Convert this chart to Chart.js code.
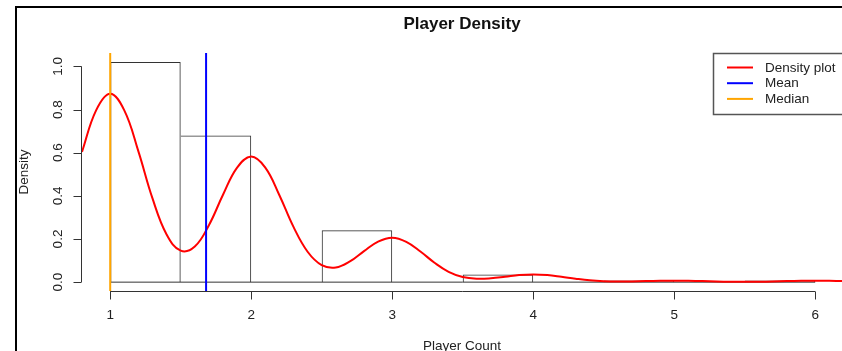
<!DOCTYPE html>
<html>
<head>
<meta charset="utf-8">
<title>Player Density</title>
<script src="https://cdn.jsdelivr.net/npm/chart.js@4.4.0/dist/chart.umd.min.js"></script>
<style>
  html, body { margin: 0; padding: 0; background: #fff; }
  #wrap { width: 842px; height: 351px; position: relative; }
</style>
</head>
<body>
<div id="wrap"><canvas id="densityChart"></canvas></div>
<script>
// histogram bins (width 0.5) and their density heights
const binEdges = [1, 1.5, 2, 2.5, 3, 3.5, 4, 4.5, 5, 5.5, 6];
const binDensity = [1.02, 0.68, 0, 0.24, 0, 0.036, 0, 0.008, 0, 0.008];

// density curve
const densityX = [0.8, 0.9, 1.0, 1.1, 1.2, 1.3, 1.4, 1.5, 1.6, 1.7,
    1.8, 1.9, 2.0, 2.1, 2.2, 2.3, 2.4, 2.5, 2.6, 2.7,
    2.8, 2.9, 3.0, 3.1, 3.2, 3.3, 3.4, 3.5, 3.6, 3.7,
    3.8, 3.9, 4.0, 4.1, 4.2, 4.3, 4.4, 4.5, 4.6, 4.7,
    4.8, 4.9, 5.0, 5.1, 5.2, 5.3, 5.4, 5.5, 5.6, 5.7,
    5.8, 5.9, 6.0, 6.1, 6.2];
const densityY = [0.604, 0.796, 0.873, 0.796, 0.606, 0.388, 0.221, 0.146, 0.165, 0.264,
    0.405, 0.531, 0.582, 0.531, 0.403, 0.256, 0.141, 0.079, 0.068, 0.096,
    0.144, 0.188, 0.206, 0.187, 0.142, 0.090, 0.048, 0.024, 0.016, 0.018,
    0.025, 0.033, 0.036, 0.033, 0.025, 0.016, 0.0084, 0.0043, 0.0029, 0.0034,
    0.0048, 0.0063, 0.0068, 0.0063, 0.0048, 0.0030, 0.0019, 0.0014, 0.0019, 0.0030,
    0.0048, 0.0063, 0.0068, 0.0063, 0.0048];

const meanValue = 1.68;
const medianValue = 1;

const xTicks = [1, 2, 3, 4, 5, 6];
const yTicks = [0, 0.2, 0.4, 0.6, 0.8, 1.0];
const yTickLabels = ['0.0', '0.2', '0.4', '0.6', '0.8', '1.0'];

const xRange = [0.8, 6.19];
const yRange = [-0.041, 1.062];

const legendItems = [
    { label: 'Density plot', color: '#ff0000' },
    { label: 'Mean', color: '#0000ff' },
    { label: 'Median', color: '#ffa500' }
];

const FONT = '"Liberation Sans", Arial, Helvetica, sans-serif';

// R base graphics look: detached axes, rotated y labels, boxed legend
const rStyle = {
    id: 'rStyle',
    afterDraw(chart) {
        const { ctx, chartArea, scales: { x, y } } = chart;
        ctx.save();

        // outer frame of the screenshot
        ctx.fillStyle = '#000';
        ctx.fillRect(15, 6, 2, 345);
        ctx.fillRect(15, 6, 827, 2);

        ctx.strokeStyle = '#333';
        ctx.lineWidth = 1;

        // x axis
        const ya = Math.round(chartArea.bottom) + 0.5;
        ctx.beginPath();
        ctx.moveTo(x.getPixelForValue(xTicks[0]), ya);
        ctx.lineTo(x.getPixelForValue(xTicks[xTicks.length - 1]), ya);
        xTicks.forEach(v => {
            const px = Math.round(x.getPixelForValue(v)) + 0.5;
            ctx.moveTo(px, ya);
            ctx.lineTo(px, ya + 8);
        });
        ctx.stroke();

        // y axis
        const xa = Math.round(chartArea.left) - 0.5;
        ctx.beginPath();
        ctx.moveTo(xa, y.getPixelForValue(yTicks[0]));
        ctx.lineTo(xa, y.getPixelForValue(yTicks[yTicks.length - 1]));
        yTicks.forEach(v => {
            const py = Math.round(y.getPixelForValue(v)) + 0.5;
            ctx.moveTo(xa, py);
            ctx.lineTo(xa - 8, py);
        });
        ctx.stroke();

        // tick labels
        ctx.fillStyle = '#222';
        ctx.font = '13.5px ' + FONT;
        ctx.textAlign = 'center';
        ctx.textBaseline = 'alphabetic';
        xTicks.forEach(v => ctx.fillText(String(v), x.getPixelForValue(v), 319));
        yTicks.forEach((v, i) => {
            ctx.save();
            ctx.translate(61.5, y.getPixelForValue(v));
            ctx.rotate(-Math.PI / 2);
            ctx.fillText(yTickLabels[i], 0, 0);
            ctx.restore();
        });

        // axis titles
        const midX = (chartArea.left + chartArea.right) / 2;
        ctx.fillText('Player Count', midX, 350);
        ctx.save();
        ctx.translate(27.5, (chartArea.top + chartArea.bottom) / 2);
        ctx.rotate(-Math.PI / 2);
        ctx.fillText('Density', 0, 0);
        ctx.restore();

        // main title
        ctx.fillStyle = '#111';
        ctx.font = 'bold 17px ' + FONT;
        ctx.fillText('Player Density', midX, 29);

        // legend box
        ctx.strokeStyle = '#555';
        ctx.lineWidth = 1.5;
        ctx.strokeRect(713.5, 53.5, 140, 61);
        ctx.font = '13.5px ' + FONT;
        ctx.textAlign = 'left';
        ctx.textBaseline = 'middle';
        legendItems.forEach((item, i) => {
            const ly = 67.5 + i * 15.7;
            ctx.strokeStyle = item.color;
            ctx.lineWidth = 2;
            ctx.beginPath();
            ctx.moveTo(727, ly);
            ctx.lineTo(753, ly);
            ctx.stroke();
            ctx.fillStyle = '#222';
            ctx.fillText(item.label, 765, ly + 0.5);
        });

        ctx.restore();
    }
};

document.addEventListener('DOMContentLoaded', () => {
    const binMids = binDensity.map((_, i) => (binEdges[i] + binEdges[i + 1]) / 2);

    const datasets = [
        {
            type: 'line',
            label: 'Median',
            data: [{ x: medianValue, y: yRange[0] }, { x: medianValue, y: yRange[1] }],
            borderColor: '#ffa500',
            borderWidth: 2,
            pointRadius: 0,
            order: 1
        },
        {
            type: 'line',
            label: 'Mean',
            data: [{ x: meanValue, y: yRange[0] }, { x: meanValue, y: yRange[1] }],
            borderColor: '#0000ff',
            borderWidth: 2,
            pointRadius: 0,
            order: 2
        },
        {
            type: 'line',
            label: 'Density plot',
            data: densityX.map((v, i) => ({ x: v, y: densityY[i] })),
            borderColor: '#ff0000',
            borderWidth: 2,
            pointRadius: 0,
            tension: 0.4,
            order: 3
        },
        {
            type: 'line',
            label: 'baseline',
            data: [{ x: binEdges[0], y: 0 }, { x: binEdges[binEdges.length - 1], y: 0 }],
            borderColor: '#333',
            borderWidth: 1,
            pointRadius: 0,
            order: 4
        },
        {
            type: 'bar',
            label: 'Histogram',
            data: binMids.map((v, i) => ({ x: v, y: binDensity[i] })),
            backgroundColor: 'rgba(0,0,0,0)',
            borderColor: '#333',
            // a shared edge is drawn once, by the taller bar
            borderWidth: c => {
                const h = binDensity[c.dataIndex];
                const prev = binDensity[c.dataIndex - 1] || 0;
                const next = binDensity[c.dataIndex + 1] || 0;
                return { top: 1, bottom: 0, left: prev < h ? 1 : 0, right: next <= h ? 1 : 0 };
            },
            borderSkipped: false,
            inflateAmount: 0,
            barPercentage: 1,
            categoryPercentage: 1,
            order: 5
        }
    ];

    const ctx = document.getElementById('densityChart').getContext('2d');
    new Chart(ctx, {
        type: 'bar',
        data: { datasets },
        options: {
            responsive: true,
            maintainAspectRatio: false,
            animation: false,
            devicePixelRatio: 1,
            layout: { padding: { left: 82, right: 0, top: 53, bottom: 60 } },
            plugins: {
                legend: { display: false },
                title: { display: false },
                tooltip: { enabled: false }
            },
            scales: {
                x: {
                    type: 'linear',
                    display: false,
                    offset: false,
                    min: xRange[0],
                    max: xRange[1],
                    afterBuildTicks: s => { s.ticks = xTicks.map(v => ({ value: v })); }
                },
                y: {
                    type: 'linear',
                    display: false,
                    min: yRange[0],
                    max: yRange[1]
                }
            }
        },
        plugins: [rStyle]
    });
});
</script>
</body>
</html>
